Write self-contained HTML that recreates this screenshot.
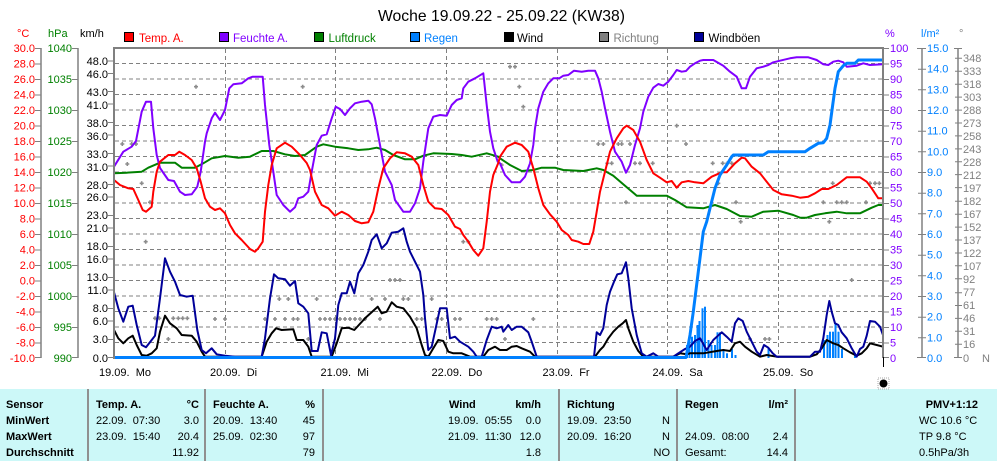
<!DOCTYPE html>
<html><head><meta charset="utf-8">
<style>
html,body{margin:0;padding:0;background:#fff;}
svg{display:block;font-family:"Liberation Sans",sans-serif;}
</style></head>
<body>
<svg width="1000" height="461" viewBox="0 0 1000 461" xmlns="http://www.w3.org/2000/svg">
<rect x="0" y="0" width="1000" height="461" fill="#fff"/>
<text x="378" y="21" font-size="16" textLength="247" lengthAdjust="spacingAndGlyphs" fill="#000">Woche 19.09.22 - 25.09.22 (KW38)</text>

<g font-size="11">
<text x="17" y="37" fill="#ff0000">°C</text>
<text x="48" y="37" fill="#008000">hPa</text>
<text x="80" y="37" fill="#000">km/h</text>
<text x="885" y="37" fill="#8000ff">%</text>
<text x="921" y="37" fill="#0080ff">l/m²</text>
<text x="959" y="37" fill="#808080">°</text>
</g>

<g font-size="11.5">
<rect x="124.5" y="32.5" width="9" height="9" fill="#ff0000" stroke="#000"/>
<text x="139" y="42" fill="#ff0000">Temp. A.</text>
<rect x="219.5" y="32.5" width="9" height="9" fill="#8000ff" stroke="#000"/>
<text x="233" y="42" fill="#8000ff">Feuchte A.</text>
<rect x="314.5" y="32.5" width="9" height="9" fill="#008000" stroke="#000"/>
<text x="328.5" y="42" fill="#008000">Luftdruck</text>
<rect x="410.5" y="32.5" width="9" height="9" fill="#0080ff" stroke="#000"/>
<text x="424" y="42" fill="#0080ff">Regen</text>
<rect x="504.5" y="32.5" width="9" height="9" fill="#000" stroke="#000"/>
<text x="517" y="42" fill="#000">Wind</text>
<rect x="599.5" y="32.5" width="9" height="9" fill="#808080" stroke="#000"/>
<text x="613.5" y="42" fill="#808080">Richtung</text>
<rect x="694.5" y="32.5" width="9" height="9" fill="#000099" stroke="#000"/>
<text x="708.5" y="42" fill="#000">Windböen</text>
</g>

<g stroke="#808080" stroke-width="1.5" fill="none">
<line x1="41" y1="48" x2="41" y2="358"/>
<line x1="78" y1="48" x2="78" y2="358"/>
<line x1="922" y1="48" x2="922" y2="358"/>
<line x1="958" y1="48" x2="958" y2="358"/>
</g>
<g stroke="#808080" stroke-width="1">
<path d="M35 48.5h6M35 64h6M35 79.5h6M35 95h6M35 110.5h6M35 126h6M35 141.5h6M35 157h6M35 172.5h6M35 188h6M35 203.5h6M35 219h6M35 234.5h6M35 250h6M35 265.5h6M35 281h6M35 296.5h6M35 312h6M35 327.5h6M35 343h6M35 357.5h6"/>
<path d="M72 48.5h6M72 79.5h6M72 110.5h6M72 141.5h6M72 172.5h6M72 203.5h6M72 234.5h6M72 265.5h6M72 296.5h6M72 327.5h6M72 357.5h6"/>
<path d="M883 64h6M883 79.5h6M883 95h6M883 110.5h6M883 126h6M883 141.5h6M883 157h6M883 172.5h6M883 188h6M883 203.5h6M883 219h6M883 234.5h6M883 250h6M883 265.5h6M883 281h6M883 296.5h6M883 312h6M883 327.5h6M883 343h6M883 48.5h6M883 357.5h6"/>
<path d="M917 48.5h9M918 69.2h8M918 89.8h8M918 110.5h8M918 131.2h8M918 151.8h8M918 172.5h8M918 193.2h8M918 213.8h8M918 234.5h8M918 255.2h8M918 275.8h8M918 296.5h8M918 317.2h8M918 337.8h8M917 357.5h9"/>
<path d="M954 48.5h8M955 58.3h7M955 71.3h7M955 84.2h7M955 97.1h7M955 110.1h7M955 123h7M955 135.9h7M955 148.9h7M955 161.7h7M955 174.6h7M955 187.6h7M955 201.2h7M955 214.2h7M955 227.1h7M955 240h7M955 253h7M955 265.8h7M955 278.8h7M955 292.7h7M955 305.5h7M955 318.4h7M955 331.3h7M955 344.2h7M954 357.5h8"/>
<path d="M108 61h6M108 73.5h6M108 91.5h6M108 104h6M108 122.5h6M108 135h6M108 153.5h6M108 166h6M108 184.5h6M108 197h6M108 215.5h6M108 228h6M108 246.5h6M108 259h6M108 277.5h6M108 290h6M108 308.5h6M108 321h6M108 339.5h6M108 357.5h6"/>
</g>

<g font-size="11" fill="#ff0000" text-anchor="end">
<text x="35" y="52">30.0</text><text x="35" y="67.5">28.0</text><text x="35" y="83">26.0</text><text x="35" y="98.5">24.0</text><text x="35" y="114">22.0</text><text x="35" y="129.5">20.0</text><text x="35" y="145">18.0</text><text x="35" y="160.5">16.0</text><text x="35" y="176">14.0</text><text x="35" y="191.5">12.0</text><text x="35" y="207">10.0</text><text x="35" y="222.5">8.0</text><text x="35" y="238">6.0</text><text x="35" y="253.5">4.0</text><text x="35" y="269">2.0</text><text x="35" y="284.5">0.0</text><text x="35" y="300">-2.0</text><text x="35" y="315.5">-4.0</text><text x="35" y="331">-6.0</text><text x="35" y="346.5">-8.0</text><text x="35" y="362">-10.0</text>
</g>
<g font-size="11" fill="#008000" text-anchor="end">
<text x="72" y="52">1040</text><text x="72" y="83">1035</text><text x="72" y="114">1030</text><text x="72" y="145">1025</text><text x="72" y="176">1020</text><text x="72" y="207">1015</text><text x="72" y="238">1010</text><text x="72" y="269">1005</text><text x="72" y="300">1000</text><text x="72" y="331">995</text><text x="72" y="362">990</text>
</g>
<g font-size="11" fill="#000" text-anchor="end">
<text x="108" y="65">48.0</text><text x="108" y="78">46.0</text><text x="108" y="96">43.0</text><text x="108" y="109">41.0</text><text x="108" y="127">38.0</text><text x="108" y="140">36.0</text><text x="108" y="158">33.0</text><text x="108" y="171">31.0</text><text x="108" y="189">28.0</text><text x="108" y="201">26.0</text><text x="108" y="219">23.0</text><text x="108" y="232">21.0</text><text x="108" y="250">18.0</text><text x="108" y="263">16.0</text><text x="108" y="281">13.0</text><text x="108" y="294">11.0</text><text x="108" y="312">8.0</text><text x="108" y="325">6.0</text><text x="108" y="343">3.0</text><text x="108" y="362">0.0</text>
</g>

<g font-size="11" fill="#8000ff">
<text x="890" y="52">100</text><text x="890" y="67.5">95</text><text x="890" y="83">90</text><text x="890" y="98.5">85</text><text x="890" y="114">80</text><text x="890" y="129.5">75</text><text x="890" y="145">70</text><text x="890" y="160.5">65</text><text x="890" y="176">60</text><text x="890" y="191.5">55</text><text x="890" y="207">50</text><text x="890" y="222.5">45</text><text x="890" y="238">40</text><text x="890" y="253.5">35</text><text x="890" y="269">30</text><text x="890" y="284.5">25</text><text x="890" y="300">20</text><text x="890" y="315.5">15</text><text x="890" y="331">10</text><text x="890" y="346.5">5</text><text x="890" y="362">0</text>
</g>
<g font-size="11" fill="#0080ff">
<text x="927" y="52">15.0</text><text x="927" y="72.7">14.0</text><text x="927" y="93.3">13.0</text><text x="927" y="114">12.0</text><text x="927" y="134.7">11.0</text><text x="927" y="155.3">10.0</text><text x="927" y="176">9.0</text><text x="927" y="196.7">8.0</text><text x="927" y="217.3">7.0</text><text x="927" y="238">6.0</text><text x="927" y="258.7">5.0</text><text x="927" y="279.3">4.0</text><text x="927" y="300">3.0</text><text x="927" y="320.7">2.0</text><text x="927" y="341.3">1.0</text><text x="927" y="362">0.0</text>
</g>
<g font-size="11" fill="#808080">
<text x="963" y="62">348</text><text x="963" y="75">333</text><text x="963" y="88">318</text><text x="963" y="101">303</text><text x="963" y="114">288</text><text x="963" y="127">273</text><text x="963" y="140">258</text><text x="963" y="153">243</text><text x="963" y="166">228</text><text x="963" y="179">212</text><text x="963" y="192">197</text><text x="963" y="205">182</text><text x="963" y="218">167</text><text x="963" y="231">152</text><text x="963" y="244">137</text><text x="963" y="257">122</text><text x="963" y="270">107</text><text x="963" y="283">92</text><text x="963" y="296">77</text><text x="963" y="309">61</text><text x="963" y="322">46</text><text x="963" y="335">31</text><text x="963" y="348">16</text><text x="963" y="362">0</text>
<text x="982" y="362">N</text>
</g>

<g stroke="#808080" stroke-width="1" stroke-dasharray="4,3" fill="none">
<path d="M115 63.5H883M115 79H883M115 94.5H883M115 110H883M115 125.5H883M115 141H883M115 156.5H883M115 172H883M115 187.5H883M115 203H883M115 218.5H883M115 234H883M115 249.5H883M115 265H883M115 280.5H883M115 296H883M115 311.5H883M115 327H883M115 342.5H883"/>
<path d="M225.5 49V358M335.5 49V358M446.5 49V358M557.5 49V358M667.5 49V358M778.5 49V358"/>
</g>

<g stroke="#8c8c8c" stroke-width="1.6" fill="none">
<path d="M194 86.7h4M196 84.7v4 M120.3 144h4M122.3 142v4 M129.7 144h4M131.7 142v4 M134 144h4M136 142v4 M125.3 164h4M127.3 162v4 M139.7 183.3h4M141.7 181.3v4 M148 202.3h4M150 200.3v4 M143.7 241.7h4M145.7 239.7v4 M300.7 86.7h4M302.7 84.7v4 M153 318.3h4M155 316.3v4 M157.3 318.3h4M159.3 316.3v4 M171.3 318.3h4M173.3 316.3v4 M176.3 318.3h4M178.3 316.3v4 M180.7 318.3h4M182.7 316.3v4 M185.3 318.3h4M187.3 316.3v4 M166.3 339h4M168.3 337v4 M213 319h4M215 317v4 M223 319h4M225 317v4 M263 319h4M265 317v4 M273 319h4M275 317v4 M283 319h4M285 317v4 M291.3 319h4M293.3 317v4 M295.7 319h4M297.7 317v4 M277.3 299h4M279.3 297v4 M286.3 299h4M288.3 297v4 M306.3 339h4M308.3 337v4 M314.7 299h4M316.7 297v4 M318 319h4M320 317v4 M323 319h4M325 317v4 M328 319h4M330 317v4 M333 319h4M335 317v4 M338 319h4M340 317v4 M343 319h4M345 317v4 M348 319h4M350 317v4 M353 319h4M355 317v4 M358 319h4M360 317v4 M363 319h4M365 317v4 M369.7 299h4M371.7 297v4 M383 299h4M385 297v4 M388 280h4M390 278v4 M393 280h4M395 278v4 M398 280h4M400 278v4 M401.3 299h4M403.3 297v4 M406.3 299h4M408.3 297v4 M429.7 299h4M431.7 297v4 M378 319h4M380 317v4 M414.7 319h4M416.7 317v4 M419.7 319h4M421.7 317v4 M434.7 319h4M436.7 317v4 M439.7 319h4M441.7 317v4 M453 319h4M455 317v4 M458 319h4M460 317v4 M461.3 241.7h4M463.3 239.7v4 M466.3 241.7h4M468.3 239.7v4 M484.7 319h4M486.7 317v4 M489.7 319h4M491.7 317v4 M494.7 319h4M496.7 317v4 M499.7 165h4M501.7 163v4 M508 66.7h4M510 64.7v4 M513 66.7h4M515 64.7v4 M517.3 86.7h4M519.3 84.7v4 M521.3 106.7h4M523.3 104.7v4 M531.3 319h4M533.3 317v4 M503 339h4M505 337v4 M596.3 144h4M598.3 142v4 M601.3 144h4M603.3 142v4 M616.3 144h4M618.3 142v4 M619.7 144h4M621.7 142v4 M628 144h4M630 142v4 M605.3 163.3h4M607.3 161.3v4 M609.7 163.3h4M611.7 161.3v4 M633 163.3h4M635 161.3v4 M638 163.3h4M640 161.3v4 M650.7 163.3h4M652.7 161.3v4 M624 202.3h4M626 200.3v4 M674.7 125.7h4M676.7 123.7v4 M684 144h4M686 142v4 M710.7 163.3h4M712.7 161.3v4 M720.7 163.3h4M722.7 161.3v4 M725.3 163.3h4M727.3 161.3v4 M729.7 163.3h4M731.7 161.3v4 M716.3 183.3h4M718.3 181.3v4 M734 202.3h4M736 200.3v4 M738.7 221.7h4M740.7 219.7v4 M830.7 183.3h4M832.7 181.3v4 M868 183.3h4M870 181.3v4 M873 183.3h4M875 181.3v4 M877.3 183.3h4M879.3 181.3v4 M821.3 202.3h4M823.3 200.3v4 M834.7 202.3h4M836.7 200.3v4 M839.7 202.3h4M841.7 200.3v4 M844.7 202.3h4M846.7 200.3v4 M864 202.3h4M866 200.3v4 M827.3 221.7h4M829.3 219.7v4 M849.7 280h4M851.7 278v4 M748 339h4M750 337v4 M763 339h4M765 337v4 M767.3 339h4M769.3 337v4"/>
</g>

<g fill="#0080ff">
<rect x="686" y="345" width="2" height="13"/><rect x="688.5" y="338" width="2" height="20"/><rect x="691" y="336.7" width="2" height="21.3"/><rect x="694" y="335" width="2" height="23"/><rect x="696.5" y="325" width="2" height="33"/><rect x="698.5" y="321" width="2" height="37"/><rect x="701.5" y="308.3" width="2" height="49.7"/><rect x="704" y="306.7" width="2" height="51.3"/><rect x="707.5" y="340" width="2" height="18"/><rect x="710.5" y="345" width="2" height="13"/><rect x="714" y="345" width="2" height="13"/><rect x="716.5" y="332.3" width="2" height="25.7"/><rect x="719" y="332.3" width="2" height="25.7"/><rect x="722.5" y="349" width="2" height="9"/><rect x="726" y="353.3" width="2" height="4.7"/><rect x="731" y="349" width="2" height="9"/><rect x="734.5" y="355" width="2" height="3"/><rect x="767.5" y="348.3" width="2" height="9.7"/><rect x="823" y="340" width="2" height="18"/><rect x="826.5" y="335" width="2" height="23"/><rect x="829" y="331.7" width="2" height="26.3"/><rect x="832" y="331.7" width="2" height="26.3"/><rect x="834.5" y="324.3" width="2" height="33.7"/><rect x="837.5" y="331.7" width="2" height="26.3"/><rect x="841" y="349" width="2" height="9"/><rect x="854" y="353.3" width="2" height="4.7"/>
</g>

<g fill="none" stroke-width="2" stroke-linejoin="round">
<polyline stroke="#008000" points="114,173.3 126.7,172.7 141.7,171.7 148.3,167.7 160,162.7 175,162.7 181.7,167.7 195,167.7 203.3,163.3 211.7,158.3 225,156 238.3,157.7 250,156.7 261.7,151 273.3,151 285,154.3 295,156 305,155 316.7,146.7 323.3,144.3 335,146.7 348.3,148.3 358.3,150 368.3,149.3 376.7,147.7 385,150 393.3,155 405,159.3 415,159.3 423.3,155.7 433.3,153.3 451.7,154 461.7,155 471.7,156.7 486.7,153.3 498.3,156.7 500,158.3 510,165 521.7,171 533.3,170 541.7,167.7 555,167.7 563.3,170 583.3,171 596.7,168.3 603.3,170 613.3,175.7 625,185.7 636.7,195.7 666.7,195.7 675,200 686.7,207.3 703.3,208.3 715,205 726.7,209 740,216 751.7,216.7 763.3,211.7 778.3,210.7 793.3,215 800,217.7 806.7,217.7 815,215 825,213.3 836.7,211.7 846.7,213.3 860,213.3 871.7,207.7 878.3,205 883,205"/>
<polyline stroke="#8000ff" points="114,166.7 123.3,151.7 131.7,146.7 136,141 141.7,111.7 146,101.7 151,101.7 153.3,128.3 156.7,155 160,168 168.3,180 174,181 180,191.7 185,195 191.7,194.3 197.3,186.7 200.7,171.7 205,141.7 206.7,133.3 211.7,118.3 215,112.7 220,120 225,110 229.3,88.3 233.3,84.3 241.7,83.3 248.3,78.3 252.7,76.7 262.7,76.7 265,105 269.3,145 273.3,171.7 276.7,195 283.3,205 290,211.7 295,207.3 298.3,198.3 303.3,196.7 308.3,191.7 311.7,171.7 316.7,145 321.7,135.7 326.7,134.3 331.7,118.3 335.7,106.7 340,109 345,115 350,108.3 355,103.3 361.7,101.7 368.3,100.7 371.7,104.3 375,118.3 380,145 385,171.7 391.7,185 395,200 403.3,211.7 410,211.7 415,203.3 420,188.3 423.3,161.7 428.3,128.3 433.3,116.7 440,115 446.7,115.7 451.7,105 456.7,100 461.7,98.3 463.3,88.3 468.3,81.7 475,78.3 483.3,73.3 486.7,105 490,131.7 493.3,148.3 497.7,161.7 500,163.3 505,175 511.7,182.3 520,182.3 525,176.7 530,163.3 533.3,145 535,128.3 538.3,108.3 543.3,91.7 548.3,83.3 553.3,78.3 559.3,78.3 563.3,75.7 568.3,75 574,70.7 581.7,71.7 588.3,70.7 595,70.7 598.3,78.3 601.7,91.7 605,108.3 610,131.7 615,151.7 621.7,161.7 626,172.7 630,165 635,145 640,128.3 643.3,111.7 648.3,96.7 653.3,87.7 658.3,84 663.3,85.7 668.3,81.7 673.3,75 676.7,70 681.7,71.7 686,71 690,66.7 695,63.3 700,60.7 703.3,60 713.3,60 723.3,65.7 730,71.7 736.7,76.7 741.7,88.3 746,88.3 750,76.7 756.7,68.3 763.3,66.7 768.3,65 773.3,62.3 780,60.7 790,58.3 796.7,57.3 808.3,57.3 816.7,60 823.3,64.3 828.3,65 833.3,61.7 838.3,60.7 843.3,62.3 846.7,66.7 856.7,65.7 863.3,63.3 870,65 883,64.3"/>
<polyline stroke="#ff0000" points="114,180 120,185 128.3,188.3 133.3,189 138.3,200 142.7,210 146,211.7 151.7,206.7 153.3,191.7 156.7,171.7 160,161.7 168.3,155 175,155 179.3,151.7 185,155 191.7,160 196.7,168.3 200.7,181.7 205,198.3 210,206.7 215,210 220,208.3 225,213.3 230,225 235,233.3 241.7,240 250,249 255,251.7 258.3,248.3 262.7,241.7 265,211.7 268.3,185 271.7,165 276.7,148.3 285,142.7 291.7,146.7 300,155 306.7,163 310,170 315,191.7 321.7,205 328.3,208.3 335,215.7 341.7,211.7 348.3,215 355,221 361.7,223.3 368.3,222.3 373.3,211.7 378.3,188.3 383.3,168.3 390,158.3 396.7,152.3 405,153.3 411.7,156.7 418.3,165 423.3,185 428.3,201.7 435,208.3 441.7,209 448.3,215 455,226.7 460,229 463.3,235 468.3,241.7 473.3,250 478.3,255.7 483.3,248.3 486.7,221.7 490,191.7 493.3,175 498.3,163 500,156.7 506.7,146.7 515,142.7 521.7,145 528.3,151.7 533.3,168.3 538.3,188.3 543.3,205 550,214.3 556.7,221.7 561.7,230 568.3,235 571.7,240 578.3,241.7 583.3,244 589.3,244 593.3,231.7 596.7,211.7 600,191.7 605,171.7 610,151.7 616.7,138.3 623.3,128.3 626.7,125.7 633.3,130 640,141.7 646.7,160 653.3,173.3 660,177.7 666.7,182.3 671.7,181 676.7,187.7 681.7,182.3 688.3,181 695,182.3 703.3,183.3 711.7,176.7 721.7,172.3 726.7,172.3 735,163.3 741.7,157.7 745,158.3 751.7,166.7 760,173.3 766.7,181.7 773.3,190 781.7,194.3 791.7,195.7 800,197.7 808.3,196.7 815,193.3 821.7,189 828.3,189 836.7,185 846.7,177.3 860,177.3 866.7,181.7 871.7,188.3 878.3,198.3 883,198.3"/>
<polyline stroke="#000" points="114,330 118.3,338.3 123.3,343.3 128.3,338.3 132.7,335.7 136.7,345 141.7,355 146.7,355.7 151.7,353.3 156.7,348.3 160,331.7 165,315.7 170,323.3 176.7,328.3 181.7,335 191.7,335.7 196.7,341.7 201.7,351.7 205,356.7 261.7,356.7 266.7,341.7 271.7,333.3 276,328.3 281.7,330 293.3,329.3 296.7,340 303.3,340 308.3,346.7 311.7,356.7 331.7,356.7 336.7,343.3 341.7,328.3 348.3,327.7 354.3,330 365,318.3 377.7,306.7 381.7,313.3 386.7,311.7 391.7,302.3 396.7,306.7 403.3,308.3 410,316.7 416.7,328.3 421.7,345 425,355 428.3,356.7 433.3,348.3 438.3,340 443.3,341 448.3,351.7 453.3,353.3 461.7,353.3 470,356.7 483.3,356.7 488.3,350 495,346.7 500,350 506.7,350 511.7,346.7 516.7,346 521.7,348.3 530,351.7 535,356.7 595,356.7 600,350 603.3,346.7 608.3,338.3 613.3,331.7 618.3,326.7 622.7,323.3 626,320 628.3,328.3 633.3,341.7 638.3,351 643.3,356.7 673.3,356.7 680,353.3 686.7,354.3 690,353.3 703.3,353.3 716.7,351 723.3,350 730,351 735,343.3 740,341.7 745,346.7 751.7,351.7 760,356.7 766.7,355 776.7,356.7 810,356.7 816.7,354.3 821.7,348.3 826.7,340 833.3,343.3 838.3,345 843.3,348.3 850,352.3 856.7,355.7 861.7,353.3 866.7,348.3 870,343.3 876.7,345 883,346.7"/>
<polyline stroke="#000099" points="114,292.3 118.3,308.3 123.3,321.7 128.3,306.7 132.7,305.7 136.7,325 141.7,345 146,347.3 151.7,340 155,335.7 160,298.3 165,258.3 170,271.7 175,281.7 180,295 186.7,296.7 192.7,295.7 197.3,330 201.7,350 206,353.3 211.7,348.3 216.7,354.3 225,355.7 235,356.7 261.7,356.7 265,338.3 270,298.3 274,274.3 278.3,278.3 285,279.3 290,285.7 295,281 298.3,303.3 303.3,306.7 308.3,313.3 311.7,351 317.7,351 321.7,332.3 326.7,333.3 331,355 335,338.3 338.3,305 341.7,293.3 346.7,293.3 350,281.7 354.3,293.3 358.3,273.3 363.3,265 368.3,251.7 371.7,240 376.7,234.3 381.7,248.3 386.7,243.3 391.7,232.7 398.3,231.7 403.3,228.3 406.7,241.7 410,251.7 415,261.7 420,271.7 423.3,295 425,318.3 428.3,350 431.7,346.7 435.7,328.3 440,308.3 446.7,308.3 450,338.3 455,336.7 460,341.7 468.3,346.7 473.3,351.7 476.7,356.7 481.7,356.7 486.7,340 491.7,326.7 496.7,328.3 501.7,326.7 503.3,331.7 508.3,325 511.7,330 516.7,326.7 521.7,326.7 528.3,332.3 531.7,341.7 536.7,356.7 594,356.7 596.7,332.3 600,335 603.3,328.3 606.7,305 610,291.7 614,281.7 617.3,274.3 621.7,273.3 626,262.3 628.3,278.3 631.7,308.3 636.7,335 641.7,353.3 646.7,356.7 653.3,353.3 658.3,356.7 673.3,356.7 678.3,353.3 685,349 690,346.7 695,341 700,338.3 706.7,350 713.3,340 721.7,332.3 726.7,336.7 731.7,341.7 735,323.3 738.3,318.3 742.7,321 746.7,331.7 751.7,341.7 756.7,351.7 760,355 764,345 768.3,347.7 772.7,353.3 776.7,356.7 810,356.7 815,351.7 820,351.7 823.3,338.3 826.7,315 829.3,301 831.7,311.7 835,323.3 838.3,325 841.7,332.3 846.7,338.3 851.7,348.3 856.7,356.7 860,349 863.3,346.7 866.7,335.7 870,321 875,321.7 880,326.7 883,335"/>
<polyline stroke="#0080ff" stroke-width="3" points="114,357.5 686,357.5 690,335 693.3,311.7 698.3,271.7 703.3,231.7 706.7,221.7 710,208.3 715,188.3 720,175 726.7,165 731.7,156.7 733.3,155 763.3,155 768.3,151.7 805,151.7 810,148.3 818.3,143.3 823.3,142.7 826.7,138.3 830,125 832.7,105 835,88.3 838.3,71.7 843.3,65.7 846.7,63.3 855,63.3 858.3,60 883,60"/>
</g>

<g stroke="#808080" stroke-width="2" fill="none">
<line x1="113" y1="48" x2="884" y2="48"/>
<line x1="114" y1="47" x2="114" y2="359"/>
<line x1="883" y1="47" x2="883" y2="358"/>
</g>
<line x1="883.5" y1="357" x2="883.5" y2="367" stroke="#000" stroke-width="1"/>

<g font-size="11" fill="#000">
<text x="99" y="376">19.09.&#160;&#160;Mo</text>
<text x="210" y="376">20.09.&#160;&#160;Di</text>
<text x="320.5" y="376">21.09.&#160;&#160;Mi</text>
<text x="431.5" y="376">22.09.&#160;&#160;Do</text>
<text x="542.5" y="376">23.09.&#160;&#160;Fr</text>
<text x="652.5" y="376">24.09.&#160;&#160;Sa</text>
<text x="763" y="376">25.09.&#160;&#160;So</text>
</g>

<rect x="0" y="389" width="997" height="72" fill="#ccf8f8"/>
<g stroke="#909090" stroke-width="2">
<line x1="88" y1="389" x2="88" y2="461"/>
<line x1="205" y1="389" x2="205" y2="461"/>
<line x1="323" y1="389" x2="323" y2="461"/>
<line x1="559" y1="389" x2="559" y2="461"/>
<line x1="677" y1="389" x2="677" y2="461"/>
<line x1="795" y1="389" x2="795" y2="461"/>
</g>
<rect x="878" y="378" width="11" height="11" fill="none" stroke="#aaa" stroke-dasharray="1,1"/>
<circle cx="883.5" cy="383.5" r="4" fill="#000"/>
<g font-size="11" fill="#000">
<g font-weight="bold">
<text x="6" y="408">Sensor</text>
<text x="6" y="424">MinWert</text>
<text x="6" y="440">MaxWert</text>
<text x="6" y="456">Durchschnitt</text>
<text x="96" y="408">Temp. A.</text>
<text x="199" y="408" text-anchor="end">°C</text>
<text x="213" y="408">Feuchte A.</text>
<text x="315" y="408" text-anchor="end">%</text>
<text x="449" y="408">Wind</text>
<text x="541" y="408" text-anchor="end">km/h</text>
<text x="567" y="408">Richtung</text>
<text x="685" y="408">Regen</text>
<text x="788" y="408" text-anchor="end">l/m²</text>
<text x="978" y="408" text-anchor="end">PMV+1:12</text>
</g>
<text x="96" y="424">22.09.&#160;&#160;07:30</text><text x="199" y="424" text-anchor="end">3.0</text>
<text x="96" y="440">23.09.&#160;&#160;15:40</text><text x="199" y="440" text-anchor="end">20.4</text>
<text x="199" y="456" text-anchor="end">11.92</text>
<text x="213" y="424">20.09.&#160;&#160;13:40</text><text x="315" y="424" text-anchor="end">45</text>
<text x="213" y="440">25.09.&#160;&#160;02:30</text><text x="315" y="440" text-anchor="end">97</text>
<text x="315" y="456" text-anchor="end">79</text>
<text x="448" y="424">19.09.&#160;&#160;05:55</text><text x="541" y="424" text-anchor="end">0.0</text>
<text x="448" y="440">21.09.&#160;&#160;11:30</text><text x="541" y="440" text-anchor="end">12.0</text>
<text x="541" y="456" text-anchor="end">1.8</text>
<text x="567" y="424">19.09.&#160;&#160;23:50</text><text x="670" y="424" text-anchor="end">N</text>
<text x="567" y="440">20.09.&#160;&#160;16:20</text><text x="670" y="440" text-anchor="end">N</text>
<text x="670" y="456" text-anchor="end">NO</text>
<text x="685" y="440">24.09.&#160;&#160;08:00</text><text x="788" y="440" text-anchor="end">2.4</text>
<text x="685" y="456">Gesamt:</text><text x="788" y="456" text-anchor="end">14.4</text>
<text x="919" y="424">WC 10.6 °C</text>
<text x="919" y="440">TP 9.8 °C</text>
<text x="919" y="456">0.5hPa/3h</text>
</g>
</svg>
</body></html>
